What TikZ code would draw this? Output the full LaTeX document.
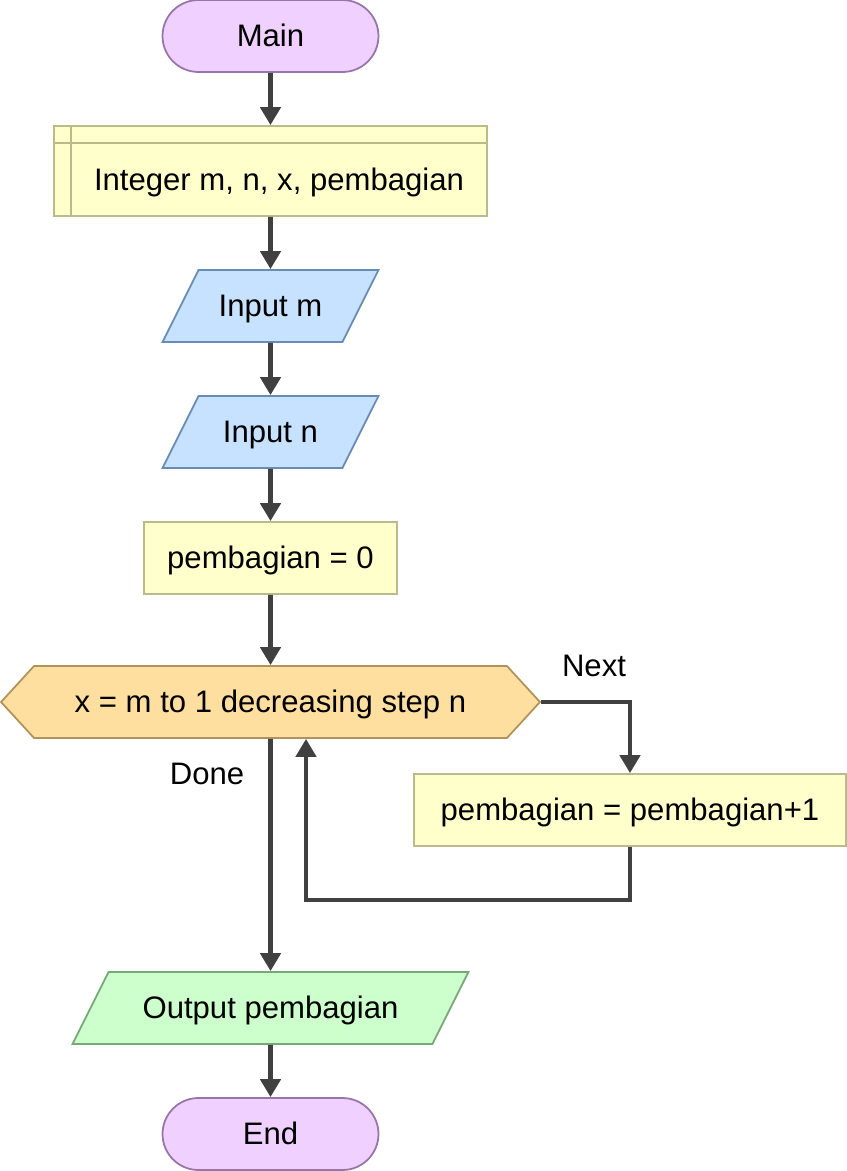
\documentclass[tikz,border=0pt]{standalone}
\usepackage{fontspec}
\setmainfont{Liberation Sans}
\usepackage{tikz}
\usetikzlibrary{shapes.geometric,shapes.symbols,arrows.meta}
\definecolor{termfill}{RGB}{240,208,255}
\definecolor{termline}{RGB}{150,118,168}
\definecolor{procfill}{RGB}{255,255,204}
\definecolor{procline}{RGB}{186,186,140}
\definecolor{infill}{RGB}{198,226,255}
\definecolor{inline}{RGB}{104,140,180}
\definecolor{loopfill}{RGB}{255,223,160}
\definecolor{loopline}{RGB}{176,146,90}
\definecolor{outfill}{RGB}{204,255,204}
\definecolor{outline}{RGB}{120,168,120}
\definecolor{flowline}{RGB}{64,64,64}
\tikzset{
  txt/.style={font=\fontsize{17.7}{21}\selectfont, inner sep=0pt, text height=0.54cm, text depth=0.14cm},
  base/.style={txt, draw, line width=1pt, minimum height=1.44cm, inner xsep=0pt, inner ysep=0.38cm},
  term/.style={base, rectangle, rounded corners=0.72cm, minimum width=4.32cm, fill=termfill, draw=termline},
  proc/.style={base, rectangle, fill=procfill, draw=procline},
  inbox/.style={base, trapezium, trapezium left angle=63.4, trapezium right angle=116.6, trapezium stretches body, minimum width=4.32cm, fill=infill, draw=inline},
  outbox/.style={base, trapezium, trapezium left angle=63.4, trapezium right angle=116.6, trapezium stretches body, minimum width=7.92cm, fill=outfill, draw=outline},
  loopbox/.style={base, signal, signal to=west and east, signal pointer angle=95, minimum width=10.78cm, fill=loopfill, draw=loopline},
  flow/.style={-{Triangle[width=0.4cm,length=0.36cm]}, line width=2.8pt, draw=flowline}
}
\begin{document}
\begin{tikzpicture}[x=0.02cm,y=-0.02cm]
\useasboundingbox (0,0) rectangle (847,1171);
% shapes
\node[term] (main) at (270.5,36) {Main};
\node[proc, minimum width=8.66cm, minimum height=1.8cm] (decl) at (270.5,171) {};
\draw[procline, line width=1pt] ([xshift=0.36cm]decl.north west) -- ([xshift=0.36cm]decl.south west);
\draw[procline, line width=1pt] ([yshift=-0.36cm]decl.north west) -- ([yshift=-0.36cm]decl.north east);
\node[txt] (decltxt) at (279,180) {Integer m, n, x, pembagian};
\node[inbox] (inm) at (270.5,306) {Input m};
\node[inbox] (inn) at (270.5,432) {Input n};
\node[proc, minimum width=5.06cm] (init) at (270.5,558) {pembagian = 0};
\node[loopbox] (loop) at (270.5,702) {x = m to 1 decreasing step n};
\node[proc, minimum width=8.64cm] (body) at (630,810) {pembagian = pembagian+1};
\node[outbox] (out) at (270.5,1008) {Output pembagian};
\node[term] (end) at (270.5,1134) {End};
% labels
\node[txt] (nextlbl) at (594,666) {Next};
\node[txt] (donelbl) at (207,774) {Done};
\coordinate (back) at (306,900);
% connectors
\draw[flow] (main) -- (decl);
\draw[flow] (decl) -- (inm);
\draw[flow] (inm) -- (inn);
\draw[flow] (inn) -- (init);
\draw[flow] (init) -- (loop);
\draw[flow] (loop.east) -| (body.north);
\draw[flow] (body.south) |- (back) -- (back |- loop.south);
\draw[flow] (loop.south) -- (out.north);
\draw[flow] (out) -- (end);
\end{tikzpicture}
\end{document}
